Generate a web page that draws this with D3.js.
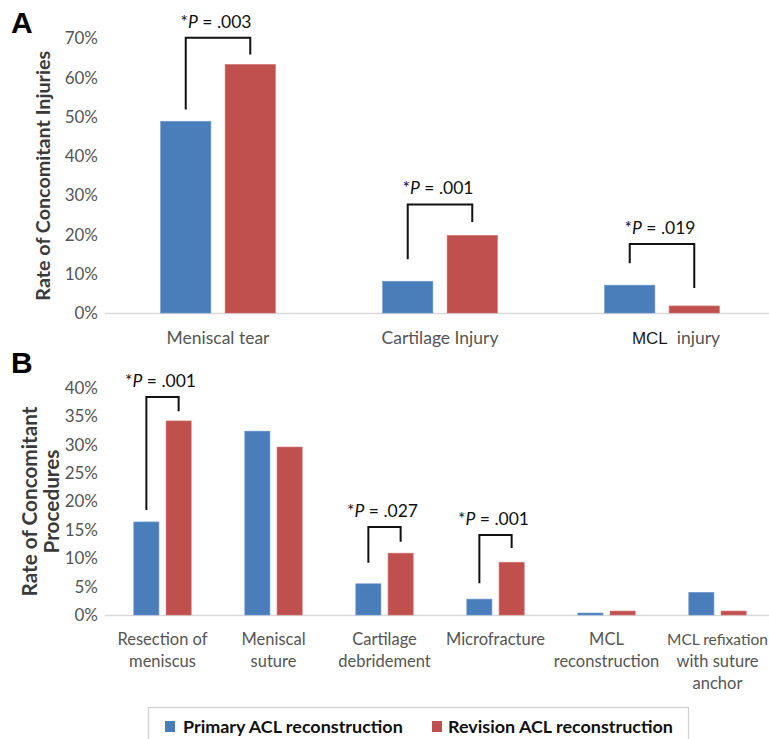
<!DOCTYPE html>
<html>
<head>
<meta charset="utf-8">
<script src="https://cdn.jsdelivr.net/npm/d3@7/dist/d3.min.js"></script>
<style>
  html, body { margin: 0; padding: 0; background: #fff; }
  svg { display: block; }
</style>
</head>
<body>
<svg id="chart" width="769" height="739"></svg>
<script>
// ---------- DATA ----------
const seriesNames = ["Primary ACL reconstruction", "Revision ACL reconstruction"];

const categoriesA = ["Meniscal tear", "Cartilage Injury", "MCL injury"];
const primaryA = [48.9, 8.1, 7.1];
const revisionA = [63.4, 19.8, 1.8];
const pValuesA = [".003", ".001", ".019"];
// bracket ends in value units: [left end, top, right end]
const bracketsA = [[51.9, 70.2, 65.9], [13.7, 27.7, 23.2], [12.7, 17.6, 6.4]];
const ticksA = [0, 10, 20, 30, 40, 50, 60, 70];

const categoriesB = [["Resection of", "meniscus"], ["Meniscal", "suture"], ["Cartilage", "debridement"],
                     ["Microfracture"], ["MCL", "reconstruction"], ["MCL refixation", "with suture", "anchor"]];
const primaryB = [16.4, 32.4, 5.5, 2.8, 0.35, 4.0];
const revisionB = [34.2, 29.6, 10.9, 9.3, 0.7, 0.7];
const pValuesB = [".001", null, ".027", ".001", null, null];
const bracketsB = [[18.5, 38.4, 35.9], null, [9.2, 15.5, 12.9], [5.6, 14.1, 11.8], null, null];
const ticksB = [0, 5, 10, 15, 20, 25, 30, 35, 40];

// ---------- STYLE ----------
const BLUE = "#4a7ebb", RED = "#c0504d";
const CAL = "Lato, 'Open Sans', sans-serif";
const ARIAL = "'Liberation Sans', Arial, sans-serif";
const GRAY = "#555555";
const W = 769;

const svg = d3.select("#chart");

function fitWidth(textSel, target) {
  const node = textSel.node();
  const fs = parseFloat(textSel.attr("font-size"));
  const w = node.getComputedTextLength();
  if (w > 0) textSel.attr("font-size", (fs * target / w).toFixed(2));
}

function panel(opts) {
  const g = svg.append("g");
  const x0 = d3.scaleBand().domain(d3.range(opts.cats.length)).range([107, 773]);
  const x1 = d3.scaleBand().domain([0, 1]).range([0, x0.bandwidth()])
    .paddingInner(0.22).paddingOuter(0.83);
  const y = d3.scaleLinear().domain([0, opts.max]).range(opts.yRange);

  // y axis labels
  const ya = d3.axisLeft(y).tickValues(opts.ticks).tickSize(0).tickPadding(9)
    .tickFormat(d => d + "%");
  const yg = g.append("g").attr("transform", "translate(107,0)").call(ya);
  yg.select(".domain").remove();
  yg.selectAll("text").attr("font-family", CAL).attr("font-size", 17).attr("fill", GRAY);

  // x baseline
  g.append("line").attr("x1", 105).attr("x2", W)
    .attr("y1", y(0) + 0.5).attr("y2", y(0) + 0.5)
    .attr("stroke", "#d9d9d9").attr("stroke-width", 1.5);

  // bars
  const data = opts.cats.map((c, i) => ({ i, vals: [opts.primary[i], opts.revision[i]] }));
  const grp = g.selectAll("g.cat").data(data).join("g").attr("class", "cat")
    .attr("transform", d => `translate(${x0(d.i)},0)`);
  grp.selectAll("rect").data(d => d.vals.map((v, k) => ({ v, k }))).join("rect")
    .attr("x", d => x1(d.k)).attr("width", x1.bandwidth())
    .attr("y", d => y(d.v)).attr("height", d => y(0) - y(d.v))
    .attr("fill", d => d.k === 0 ? BLUE : RED)
    .attr("stroke", d => d.k === 0 ? "#6f9ad0" : "#d07a78").attr("stroke-width", 0.6);

  // brackets and p-values
  opts.brackets.forEach((b, i) => {
    if (!b) return;
    const xl = x0(i) + x1(0) + x1.bandwidth() / 2;
    const xr = x0(i) + x1(1) + x1.bandwidth() / 2;
    g.append("path")
      .attr("d", `M${xl},${y(b[0])}V${y(b[1])}H${xr}V${y(b[2])}`)
      .attr("fill", "none").attr("stroke", "#111").attr("stroke-width", 2);
    const t = g.append("text").attr("x", (xl + xr) / 2 - 2).attr("y", y(b[1]) - 10)
      .attr("text-anchor", "middle").attr("font-family", CAL).attr("font-size", 17.5)
      .attr("fill", "#111");
    t.append("tspan").text("*");
    t.append("tspan").attr("font-style", "italic").text("P");
    t.append("tspan").text(" = " + opts.pvals[i]);
  });

  return { g, x0, y };
}

// ---------- PANEL A ----------
const A = panel({ cats: categoriesA, primary: primaryA, revision: revisionA, max: 70,
  yRange: [313, 38.5], ticks: ticksA, brackets: bracketsA, pvals: pValuesA });

A.g.selectAll("text.xl").data(categoriesA).join("text").attr("class", "xl")
  .attr("x", (d, i) => A.x0(i) + A.x0.bandwidth() / 2).attr("y", 344)
  .attr("text-anchor", "middle").attr("font-family", CAL).attr("font-size", 17.5)
  .attr("fill", GRAY)
  .each(function (d) {
    const t = d3.select(this);
    if (d === "MCL injury") {
      t.attr("dx", 14);
      t.append("tspan").attr("font-family", ARIAL).attr("font-size", 17).attr("fill", "#1a1a1a").text("MCL");
      t.append("tspan").text("\u00a0 injury");
    } else t.text(d);
  });

const titleA = svg.append("text")
  .attr("transform", `translate(50,${(313 + 38.5) / 2}) rotate(-90)`)
  .attr("text-anchor", "middle").attr("font-family", CAL).attr("font-weight", "bold")
  .attr("font-size", 18).attr("fill", "#3a3a3a").text("Rate of Concomitant Injuries");
fitWidth(titleA, 250);

svg.append("text").attr("x", 11).attr("y", 33).attr("font-family", ARIAL)
  .attr("font-weight", "bold").attr("font-size", 30).attr("fill", "#000").text("A");

// ---------- PANEL B ----------
const B = panel({ cats: categoriesB, primary: primaryB, revision: revisionB, max: 40,
  yRange: [615, 388], ticks: ticksB, brackets: bracketsB, pvals: pValuesB });

B.g.selectAll("text.xl").data(categoriesB).join("text").attr("class", "xl")
  .attr("x", (d, i) => B.x0(i) + B.x0.bandwidth() / 2).attr("y", 645)
  .attr("text-anchor", "middle").attr("font-family", CAL).attr("font-size", 16.5)
  .attr("fill", GRAY)
  .each(function (d) {
    const t = d3.select(this), x = +t.attr("x");
    d.forEach((line, k) => {
      const ts = t.append("tspan").attr("x", x).attr("dy", k === 0 ? 0 : 22).text(line);
      // keep each line inside the picture's right edge
      const w = ts.node().getComputedTextLength();
      const maxW = 2 * (W - 1 - x);
      if (w > maxW) ts.attr("font-size", (16.5 * maxW / w).toFixed(2));
    });
  });

const titleB = svg.append("text")
  .attr("transform", `translate(37,${(615 + 388) / 2}) rotate(-90)`)
  .attr("text-anchor", "middle").attr("font-family", CAL).attr("font-weight", "bold")
  .attr("font-size", 19).attr("fill", "#3a3a3a");
const tb1 = titleB.append("tspan").attr("x", 0).attr("dy", 0).text("Rate of Concomitant");
titleB.append("tspan").attr("x", 0).attr("dy", 22).text("Procedures");
{
  const w = tb1.node().getComputedTextLength();
  if (w > 0) titleB.attr("font-size", (19 * 190 / w).toFixed(2));
}

svg.append("text").attr("x", 11).attr("y", 373).attr("font-family", ARIAL)
  .attr("font-weight", "bold").attr("font-size", 30).attr("fill", "#000").text("B");

// ---------- LEGEND ----------
const lg = svg.append("g");
lg.append("rect").attr("x", 148.5).attr("y", 707.5).attr("width", 540).attr("height", 40)
  .attr("fill", "#fff").attr("stroke", "#d0d0d0").attr("stroke-width", 1.2);
const legendX = [{ sq: 165, tx: 183, w: 220 }, { sq: 432, tx: 448, w: 225 }];
seriesNames.forEach((name, k) => {
  lg.append("rect").attr("x", legendX[k].sq).attr("y", 721).attr("width", 10).attr("height", 11)
    .attr("fill", k === 0 ? BLUE : RED);
  const t = lg.append("text").attr("x", legendX[k].tx).attr("y", 733)
    .attr("font-family", CAL).attr("font-weight", "bold").attr("font-size", 18)
    .attr("fill", "#111").text(name);
  fitWidth(t, legendX[k].w);
});
</script>
</body>
</html>
